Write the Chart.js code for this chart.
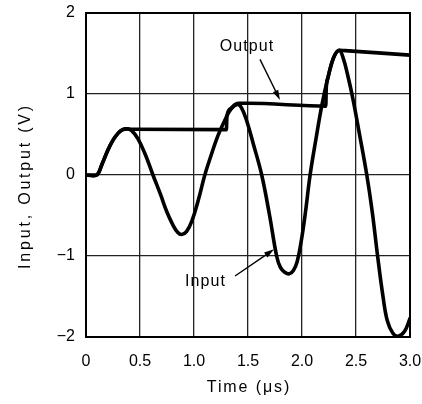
<!DOCTYPE html>
<html><head><meta charset="utf-8">
<script src="https://cdn.jsdelivr.net/npm/chart.js@4.4.0/dist/chart.umd.min.js"></script>
<style>html,body{margin:0;padding:0;background:#fff;}canvas{display:block}</style>
</head><body>
<canvas id="c" width="422" height="404"></canvas>
<script>
// Input waveform (time in µs, volts)
const inputT = [0, 0.10, 0.15, 0.20, 0.25, 0.30, 0.34, 0.38, 0.42, 0.48, 0.55, 0.62, 0.69, 0.75, 0.81, 0.85, 0.886, 0.93, 0.98, 1.04, 1.10, 1.16, 1.22, 1.28, 1.34, 1.40, 1.44, 1.49, 1.55, 1.627, 1.70, 1.765, 1.80, 1.84, 1.883, 1.92, 1.955, 1.99, 2.03, 2.075, 2.13, 2.185, 2.24, 2.29, 2.345, 2.38, 2.42, 2.47, 2.53, 2.60, 2.65, 2.70, 2.75, 2.79, 2.84, 2.89, 2.95, 3.0];
const inputV = [0, 0, 0.14, 0.30, 0.43, 0.52, 0.56, 0.57, 0.55, 0.45, 0.25, 0.0, -0.24, -0.46, -0.63, -0.71, -0.735, -0.70, -0.57, -0.31, 0.0, 0.25, 0.48, 0.66, 0.81, 0.87, 0.83, 0.66, 0.38, 0.0, -0.50, -1.0, -1.14, -1.20, -1.22, -1.18, -1.07, -0.84, -0.48, 0.0, 0.45, 0.87, 1.20, 1.44, 1.54, 1.45, 1.25, 0.95, 0.52, 0.0, -0.45, -1.0, -1.5, -1.80, -1.95, -1.99, -1.93, -1.77];
// Output waveform
const outputT = [0, 0.10, 0.15, 0.20, 0.25, 0.30, 0.34, 0.38, 0.42, 1.30, 1.305, 1.34, 1.38, 1.42, 1.50, 2.22, 2.225, 2.24, 2.29, 2.345, 2.40, 3.0];
const outputV = [0, 0, 0.14, 0.30, 0.43, 0.52, 0.56, 0.57, 0.565, 0.56, 0.73, 0.82, 0.87, 0.885, 0.885, 0.85, 1.08, 1.20, 1.44, 1.54, 1.535, 1.48];

const xTicks = [0, 0.5, 1.0, 1.5, 2.0, 2.5, 3.0];
const xTickLabels = ['0', '0.5', '1.0', '1.5', '2.0', '2.5', '3.0'];
const yTicks = [-2, -1, 0, 1, 2];
const yTickLabels = ['\u22122', '\u22121', '0', '1', '2'];
const xTitle = 'Time (\u03bcs)';
const yTitle = 'Input, Output (V)';
const noteText = ['Output', 'Input'];
const noteX = [1.491, 1.106];
const noteY = [1.535, -1.37];
const arrowFromX = [1.611, 1.38];
const arrowFromY = [1.428, -1.247];
const arrowToX = [1.796, 1.741];
const arrowToY = [0.926, -0.917];

const FONT = 'Liberation Sans, Arial, sans-serif';

const toPts = (ts, vs) => ts.map((t, i) => ({x: t, y: vs[i]}));

const decor = {
  id: 'decor',
  beforeDatasetsDraw(chart) {
    const {ctx, chartArea: a} = chart;
    ctx.save();
    ctx.strokeStyle = '#000';
    ctx.lineWidth = 2;
    ctx.strokeRect(a.left, a.top, a.right - a.left, a.bottom - a.top);
    ctx.restore();
  },
  afterDraw(chart) {
    const {ctx, chartArea: a, scales: {x, y}} = chart;
    ctx.save();
    ctx.fillStyle = '#000';
    ctx.strokeStyle = '#000';
    ctx.font = '16px ' + FONT;
    ctx.textAlign = 'center';
    ctx.textBaseline = 'alphabetic';
    try { ctx.letterSpacing = '1.9px'; } catch (e) {}
    ctx.fillText(xTitle, (a.left + a.right) / 2 + 1, a.bottom + 55);
    try { ctx.letterSpacing = '2.8px'; } catch (e) {}
    ctx.save();
    ctx.translate(a.left - 56, (a.top + a.bottom) / 2 + 11);
    ctx.rotate(-Math.PI / 2);
    ctx.fillText(yTitle, 0, 0);
    ctx.restore();
    try { ctx.letterSpacing = '1.1px'; } catch (e) {}
    for (let i = 0; i < noteText.length; i++) {
      ctx.fillText(noteText[i], x.getPixelForValue(noteX[i]), y.getPixelForValue(noteY[i]));
      const x0 = x.getPixelForValue(arrowFromX[i]), y0 = y.getPixelForValue(arrowFromY[i]);
      const x1 = x.getPixelForValue(arrowToX[i]), y1 = y.getPixelForValue(arrowToY[i]);
      const ang = Math.atan2(y1 - y0, x1 - x0);
      const L = 10, W = 3;
      ctx.lineWidth = 1.4;
      ctx.beginPath();
      ctx.moveTo(x0, y0);
      ctx.lineTo(x1 - Math.cos(ang) * L * 0.8, y1 - Math.sin(ang) * L * 0.8);
      ctx.stroke();
      ctx.beginPath();
      ctx.moveTo(x1, y1);
      ctx.lineTo(x1 - Math.cos(ang) * L - Math.sin(ang) * W, y1 - Math.sin(ang) * L + Math.cos(ang) * W);
      ctx.lineTo(x1 - Math.cos(ang) * L + Math.sin(ang) * W, y1 - Math.sin(ang) * L - Math.cos(ang) * W);
      ctx.closePath();
      ctx.fill();
    }
    ctx.restore();
  }
};

new Chart(document.getElementById('c'), {
  type: 'line',
  data: {
    datasets: [
      {label: 'Input', data: toPts(inputT, inputV), borderColor: '#000', borderWidth: 3.6, pointRadius: 0, tension: 0.4, fill: false, borderCapStyle: 'round', borderJoinStyle: 'round'},
      {label: 'Output', data: toPts(outputT, outputV), borderColor: '#000', borderWidth: 3.6, pointRadius: 0, cubicInterpolationMode: 'monotone', fill: false, borderCapStyle: 'round', borderJoinStyle: 'round'}
    ]
  },
  options: {
    responsive: false,
    animation: false,
    events: [],
    layout: {padding: {left: 0, right: 12, top: 13, bottom: 0}},
    plugins: {legend: {display: false}, tooltip: {enabled: false}},
    scales: {
      x: {
        type: 'linear', min: 0, max: 3,
        afterBuildTicks: s => { s.ticks = xTicks.map(v => ({value: v})); },
        afterFit: s => { s.height = 67; s.paddingLeft = 0; s.paddingRight = 0; },
        ticks: {callback: v => xTickLabels[xTicks.indexOf(v)], font: {family: FONT, size: 16}, color: '#000', padding: 15, maxRotation: 0, autoSkip: false},
        grid: {color: '#222', lineWidth: 1.3, drawTicks: false},
        border: {display: false}
      },
      y: {
        type: 'linear', min: -2, max: 2,
        afterBuildTicks: s => { s.ticks = yTicks.map(v => ({value: v})); },
        afterFit: s => { s.width = 86; s.paddingTop = 0; s.paddingBottom = 0; },
        ticks: {callback: v => yTickLabels[yTicks.indexOf(v)], font: {family: FONT, size: 16}, color: '#000', padding: 11, autoSkip: false},
        grid: {color: '#222', lineWidth: 1.3, drawTicks: false},
        border: {display: false}
      }
    }
  },
  plugins: [decor]
});
</script>
</body></html>
